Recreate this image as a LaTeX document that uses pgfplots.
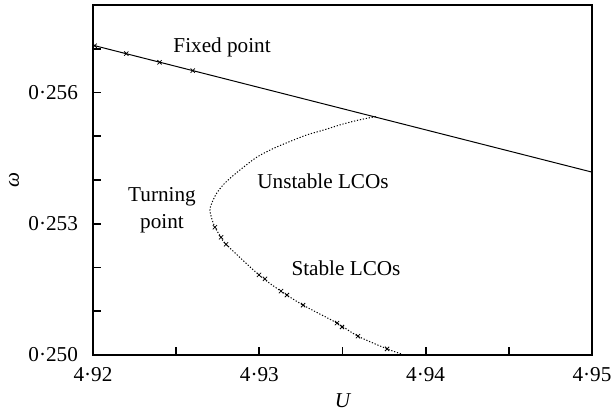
\documentclass[border=0pt]{standalone}
\usepackage{fontspec}
\setmainfont{Liberation Serif}
\usepackage{pgfplots}
\pgfplotsset{compat=1.18}

% Bifurcation diagram: frequency of the fixed point and of the LCO branch
\pgfplotstableread{
U        w
4.92000  0.25708
4.95000  0.25418
}\fixedline

\pgfplotstableread{
U        w
4.92010  0.25707
4.92200  0.25689
4.92400  0.25669
4.92600  0.25650
}\fixedmarks

\pgfplotstableread{
U        w
4.93700  0.25545
4.93585  0.25536
4.93485  0.25526
4.93385  0.25514
4.93285  0.25503
4.93184  0.25488
4.93084  0.25472
4.92984  0.25452
4.92884  0.25423
4.92824  0.25404
4.92783  0.25389
4.92744  0.25370
4.92714  0.25347
4.92703  0.25331
4.92714  0.25312
4.92733  0.25292
4.92770  0.25269
4.92800  0.25253
4.92998  0.25183
4.93130  0.25146
4.93263  0.25114
4.93467  0.25073
4.93593  0.25043
4.93768  0.25014
4.93858  0.25002
}\lcobranch

\pgfplotstableread{
U        w
4.92733  0.25292
4.92770  0.25269
4.92800  0.25253
4.92998  0.25183
4.93034  0.25174
4.93130  0.25146
4.93166  0.25137
4.93263  0.25114
4.93467  0.25073
4.93497  0.25064
4.93593  0.25043
4.93768  0.25014
}\lcomarks

\begin{document}
\begin{tikzpicture}[font=\fontsize{10.6}{12.5}\selectfont]
% page frame around the axis box (axis box sits at the origin)
\useasboundingbox (-46.5pt,-28.5pt) rectangle (259.5pt,177.5pt);
\begin{axis}[
  at={(0pt,0pt)}, anchor=south west,
  scale only axis,
  width=249.5pt, height=175pt,
  xmin=4.92, xmax=4.95,
  ymin=0.250, ymax=0.258,
  axis line style={line width=1.1pt},
  tick style={line width=0.9pt, black},
  tick pos=left,
  tick align=inside,
  major tick length=4pt,
  minor tick length=4pt,
  xtick={4.92,4.93,4.94,4.95},
  xticklabels={4·92,4·93,4·94,4·95},
  minor xtick={4.925,4.935,4.945},
  ytick={0.250,0.253,0.256},
  yticklabels={0·250,0·253,0·256},
  minor ytick={0.251,0.252,0.254,0.255,0.257},
  xticklabel style={yshift=-2.5pt},
  yticklabel style={xshift=-4pt},
  xlabel={\itshape U},
  ylabel={\itshape ω},
  xlabel style={at={(axis description cs:0.5,-0.1314)}, anchor=center},
  ylabel style={at={(axis description cs:-0.1583,0.5)}, anchor=center},
  clip mode=individual,
]
\addplot[black, line width=0.5pt] table[x=U, y=w] {\fixedline};
\addplot[only marks, mark=x, mark size=1.5pt, mark options={line width=0.4pt, black}] table[x=U, y=w] {\fixedmarks};
\addplot[black, line width=0.5pt, dash pattern=on 0.6pt off 0.9pt, smooth, tension=0.5] table[x=U, y=w] {\lcobranch};
\addplot[only marks, mark=x, mark size=1.5pt, mark options={line width=0.4pt, black}] table[x=U, y=w] {\lcomarks};

\node at (axis cs:4.92776,0.25703) {Fixed point};
\node at (axis cs:4.93383,0.253973) {Unstable LCOs};
\node[align=center, font=\fontsize{10.6}{13.5}\selectfont] at (axis cs:4.92415,0.25330) {Turning\\point};
\node at (axis cs:4.93521,0.251986) {Stable LCOs};
\end{axis}
\end{tikzpicture}
\end{document}
